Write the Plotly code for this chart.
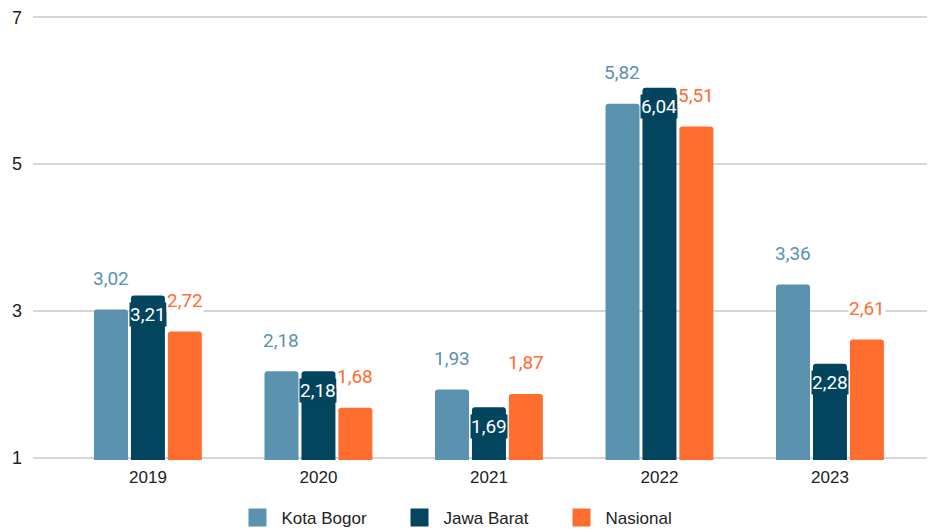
import plotly.graph_objects as go

years = ["2019", "2020", "2021", "2022", "2023"]
kota_bogor = [3.02, 2.18, 1.93, 5.82, 3.36]
jawa_barat = [3.21, 2.18, 1.69, 6.04, 2.28]
nasional = [2.72, 1.68, 1.87, 5.51, 2.61]
series_names = ["Kota Bogor", "Jawa Barat", "Nasional"]
y_ticks = [1, 3, 5, 7]

colors = ["#5a92b0", "#03445e", "#ff6d2f"]
series = [kota_bogor, jawa_barat, nasional]
offsets = [-0.217, 0.0, 0.217]

fig = go.Figure()
for name, vals, col in zip(series_names, series, colors):
    fig.add_trace(go.Bar(x=years, y=vals, name=name, showlegend=False,
                         marker=dict(color=col, line=dict(width=0))))
# legend entries with larger square swatches
for name, col in zip(series_names, colors):
    fig.add_trace(go.Scatter(x=[None], y=[None], mode="markers", name=name,
                             marker=dict(symbol="square", size=16, color=col,
                                         line=dict(color=col, width=2))))

def fmt(v):
    return f"{v:.2f}".replace(".", ",")

annotations = []
for si, (vals, col, off) in enumerate(zip(series, colors, offsets)):
    for i, v in enumerate(vals):
        if si == 1:
            annotations.append(dict(
                x=i + off, y=v, xref="x", yref="y", text=fmt(v), showarrow=False,
                yanchor="middle", yshift=-19, bgcolor=col, borderpad=0,
                font=dict(family="Roboto", size=19, color="white")))
        else:
            annotations.append(dict(
                x=i + off, y=v, xref="x", yref="y", text=fmt(v), showarrow=False,
                yanchor="middle", yshift=31, bgcolor="white", borderpad=0,
                font=dict(family="Roboto", size=19, color=col)))

fig.update_layout(
    width=927, height=524,
    margin=dict(l=25, r=0, t=7, b=72),
    paper_bgcolor="white", plot_bgcolor="white",
    barmode="group", bargap=0.35, bargroupgap=0.08, barcornerradius=3,
    font=dict(family="Liberation Sans, Arial", size=17, color="#222222"),
    xaxis=dict(type="category", range=[-0.674, 4.616], showgrid=False, showline=False,
               ticks="", automargin=False, ticklabelstandoff=5,
               tickfont=dict(size=17, color="#222222")),
    yaxis=dict(range=[0.97, 7.03], tickvals=y_ticks, showgrid=True, gridcolor="#d6d6d6",
               gridwidth=1.5, zeroline=False, showline=False, ticks="", ticklabelstandoff=10,
               ticklabeloverflow="allow", automargin=False,
               tickfont=dict(size=18, color="#222222")),
    legend=dict(orientation="h", x=0.5054, xanchor="center", xref="container",
                y=14 / 524, yanchor="middle", yref="container",
                font=dict(size=17, color="#222222"), itemwidth=38, entrywidth=109),
    annotations=annotations,
    showlegend=True,
)

fig.write_html("out.html")
